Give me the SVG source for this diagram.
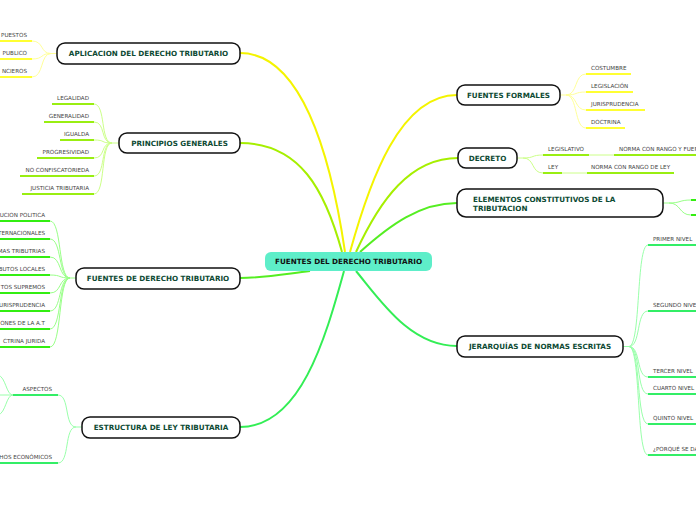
<svg xmlns="http://www.w3.org/2000/svg" width="696" height="520" viewBox="0 0 696 520">
<style>
.main{fill:#fff;stroke:#111;stroke-width:1.5}
.mt{font-family:"DejaVu Sans",Verdana,sans-serif;font-weight:bold;font-size:7.2px;fill:#0d4a33;text-anchor:middle}
.ct{font-family:"DejaVu Sans",Verdana,sans-serif;font-weight:bold;font-size:7.2px;fill:#111;text-anchor:middle}
.st{font-family:"DejaVu Sans",Verdana,sans-serif;font-size:5.6px;fill:#444}
.l{text-anchor:end}
.c{fill:none;stroke-width:1}
.u{fill:none;stroke-width:2}
.m{fill:none;stroke-width:2}
.y1{stroke:#f4f400}.y2{stroke:#ffff33}.y3{stroke:#ffff99}
.g1{stroke:#a6ef00}.g2{stroke:#99ee11}.g3{stroke:#ccff88}
.h1{stroke:#55ee22}.h2{stroke:#33ee11}.h3{stroke:#99ff88}
.s1{stroke:#33ee55}.s2{stroke:#33ee66}.s3{stroke:#99ffaa}
</style>
<g id="connectors">
<path class="m y1" d="M345 252 C330 150 300 53 240 53"/>
<path class="m g1" d="M342 252 C325 190 300 143 240 143"/>
<path class="m h1" d="M310 271 C285 274 265 278 240 278"/>
<path class="m s1" d="M344 271 C325 340 300 427 240 427"/>
<path class="m y1" d="M350 252 C370 180 400 95 457 95"/>
<path class="m g1" d="M356 252 C380 200 410 158 458 158"/>
<path class="m h1" d="M360 252 C390 225 420 203 457 203"/>
<path class="m s1" d="M356 271 C380 300 410 346 457 346"/>
<path class="c y3" d="M57 53.5 L51 53.5 C40 53.5 44 41 32 41 M51 53.5 C40 53.5 44 59 32 59 M51 53.5 C40 53.5 44 77 32 77"/>
<path class="c g3" d="M119 143 L112 143 C100 143 106 104 94 104 M112 143 C100 143 106 122 94 122 M112 143 C100 143 106 140 94 140 M112 143 C100 143 106 158 94 158 M112 143 C100 143 106 176 94 176 M112 143 C100 143 106 194 94 194"/>
<path class="c h3" d="M76 278 L70 278 C58 278 62 221 50 221 M70 278 C58 278 62 239 50 239 M70 278 C58 278 62 257 50 257 M70 278 C58 278 62 275 50 275 M70 278 C58 278 62 293 50 293 M70 278 C58 278 62 311 50 311 M70 278 C58 278 62 329 50 329 M70 278 C58 278 62 347 50 347"/>
<path class="c s3" d="M82 427 L76 427 C64 427 70 395 58 395 M76 427 C64 427 70 463 58 463"/>
<path class="c s3" d="M13 395 L0 395 M13 395 C6 395 6 377 -2 375 M13 395 C6 395 6 413 -2 415"/>
<path class="c y3" d="M560 95 L566 95 C578 95 574 74 586 74 M566 95 C578 95 574 92 586 92 M566 95 C578 95 574 110 586 110 M566 95 C578 95 574 128 586 128"/>
<path class="c g3" d="M517 158 L523 158 C535 158 531 155 543 155 M523 158 C535 158 531 173 543 173 M589 155 L614 155 M562 173 L587 173"/>
<path class="c h3" d="M663 203 L669 203 C681 203 679 200 691 200 M669 203 C681 203 679 215 691 215"/>
<path class="c s3" d="M623 346.5 L629 346.5 C641 346.5 636 245 648 245 M629 346.5 C641 346.5 636 311 648 311 M629 346.5 C641 346.5 636 377 648 377 M629 346.5 C641 346.5 636 394 648 394 M629 346.5 C641 346.5 636 424 648 424 M629 346.5 C641 346.5 636 455 648 455"/>
</g>
<g id="center">
<rect x="265" y="252" width="167" height="19" rx="6" fill="#5eeec9"/>
<text class="ct" x="348.5" y="264">FUENTES DEL DERECHO TRIBUTARIO</text>
</g>
<g id="aplicacion">
<rect class="main" x="57" y="43" width="183" height="21" rx="8"/>
<text class="mt" x="148.5" y="56">APLICACION DEL DERECHO TRIBUTARIO</text>
<path class="u y2" d="M0 41 H32 M0 59 H32 M0 77 H32"/>
<text class="st l" x="27" y="37">PUESTOS</text>
<text class="st l" x="27" y="55">PUBLICO</text>
<text class="st l" x="27" y="73">NCIEROS</text>
</g>
<g id="principios">
<rect class="main" x="119" y="133" width="121" height="20" rx="8"/>
<text class="mt" x="179.5" y="145.6">PRINCIPIOS GENERALES</text>
<path class="u g2" d="M52 104 H94 M44 122 H94 M60 140 H94 M37 158 H94 M20 176 H94 M22 194 H94"/>
<text class="st l" x="89" y="100">LEGALIDAD</text>
<text class="st l" x="89" y="118">GENERALIDAD</text>
<text class="st l" x="89" y="136">IGUALDA</text>
<text class="st l" x="89" y="154">PROGRESIVIDAD</text>
<text class="st l" x="89" y="172">NO CONFISCATORIEDA</text>
<text class="st l" x="89" y="190">JUSTICIA TRIBUTARIA</text>
</g>
<g id="fuentes-derecho">
<rect class="main" x="76" y="268" width="164" height="21" rx="8"/>
<text class="mt" x="158" y="281">FUENTES DE DERECHO TRIBUTARIO</text>
<path class="u h2" d="M0 221 H50 M0 239 H50 M0 257 H50 M0 275 H50 M0 293 H50 M0 311 H50 M0 329 H50 M0 347 H50"/>
<text class="st l" x="45" y="217">UCION POLITICA</text>
<text class="st l" x="45" y="235">TERNACIONALES</text>
<text class="st l" x="45" y="253">MAS TRIBUTRIAS</text>
<text class="st l" x="45" y="271">BUTOS LOCALES</text>
<text class="st l" x="45" y="289">TOS SUPREMOS</text>
<text class="st l" x="45" y="307">URISPRUDENCIA</text>
<text class="st l" x="45" y="325">ONES DE LA A.T</text>
<text class="st l" x="45" y="343">CTRINA JURIDA</text>
</g>
<g id="estructura">
<rect class="main" x="82" y="417" width="158" height="21" rx="8"/>
<text class="mt" x="161" y="430">ESTRUCTURA DE LEY TRIBUTARIA</text>
<path class="u s2" d="M13 395 H58 M0 463 H58"/>
<text class="st l" x="52" y="391">ASPECTOS</text>
<text class="st l" x="52" y="459">HOS ECONÓMICOS</text>
</g>
<g id="fuentes-formales">
<rect class="main" x="457" y="85" width="103" height="20" rx="8"/>
<text class="mt" x="508.5" y="97.6">FUENTES FORMALES</text>
<path class="u y2" d="M586 74 H631 M586 92 H633 M586 110 H645 M586 128 H625"/>
<text class="st" x="591" y="70">COSTUMBRE</text>
<text class="st" x="591" y="88">LEGISLACIÓN</text>
<text class="st" x="591" y="106">JURISPRUDENCIA</text>
<text class="st" x="591" y="124">DOCTRINA</text>
</g>
<g id="decreto">
<rect class="main" x="458" y="148" width="59" height="20" rx="8"/>
<text class="mt" x="487.5" y="160.6">DECRETO</text>
<path class="u g2" d="M543 155 H589 M614 155 H696 M543 173 H562 M587 173 H674"/>
<text class="st" x="548" y="151">LEGISLATIVO</text>
<text class="st" x="619" y="151">NORMA CON RANGO Y FUER</text>
<text class="st" x="548" y="169">LEY</text>
<text class="st" x="591" y="169">NORMA CON RANGO DE LEY</text>
</g>
<g id="elementos">
<rect class="main" x="457" y="189" width="206" height="28" rx="9"/>
<text class="mt" x="473" y="201.6" style="text-anchor:start">ELEMENTOS CONSTITUTIVOS DE LA</text>
<text class="mt" x="473" y="210.6" style="text-anchor:start">TRIBUTACION</text>
<path class="u h2" d="M691 200 H696 M691 215 H696"/>
</g>
<g id="jerarquias">
<rect class="main" x="457" y="336" width="166" height="21" rx="8"/>
<text class="mt" x="540" y="349">JERARQUÍAS DE NORMAS ESCRITAS</text>
<path class="u s2" d="M648 245 H696 M648 311 H696 M648 377 H696 M648 394 H696 M648 424 H696 M648 455 H696"/>
<text class="st" x="653" y="241">PRIMER NIVEL</text>
<text class="st" x="653" y="307">SEGUNDO NIVE</text>
<text class="st" x="653" y="373">TERCER NIVEL</text>
<text class="st" x="653" y="390">CUARTO NIVEL</text>
<text class="st" x="653" y="420">QUINTO NIVEL</text>
<text class="st" x="653" y="451">¿PORQUÉ SE DA</text>
</g>
</svg>
